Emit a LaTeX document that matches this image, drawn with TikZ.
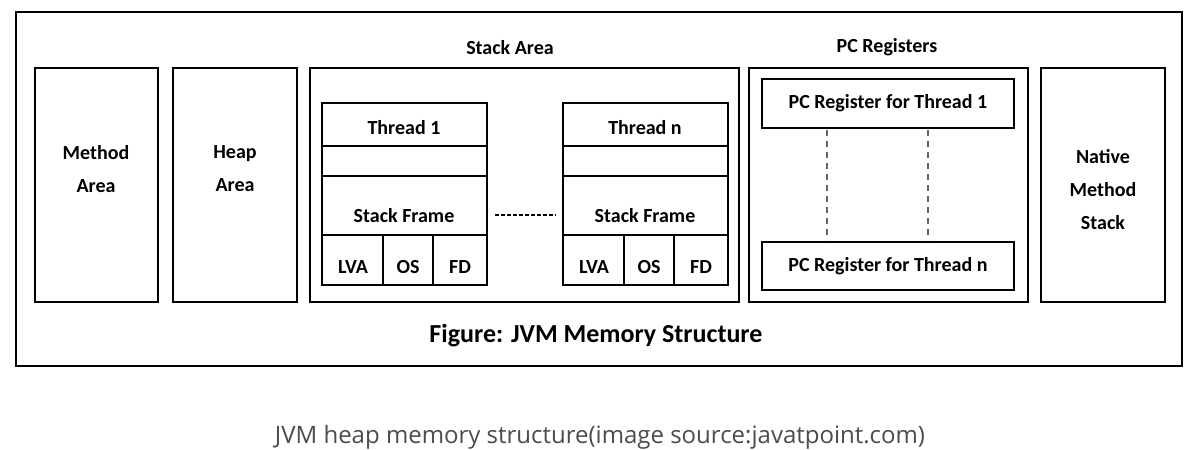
\documentclass[tikz,border=0pt]{standalone}
\usepackage{fontspec}
\setmainfont{Carlito}
\newfontfamily\capf{Open Sans}
\begin{document}
\begin{tikzpicture}[x=1pt,y=-1pt,
  bx/.style={draw=black,line width=1.3pt},
  lb/.style={font=\fontsize{20}{33}\selectfont\bfseries,align=center}]
\useasboundingbox (0,0) rectangle (1200,450);
\fill[white] (0,0) rectangle (1200,450);
\draw[bx] (16,12) rectangle (1182,366);
\draw[bx] (35,68) rectangle (158,302);
\draw[bx] (173,68) rectangle (297,302);
\draw[bx] (310,68) rectangle (739,302);
\draw[bx] (749,68) rectangle (1028,302);
\draw[bx] (1041,68) rectangle (1165,302);
\node[lb] (ma) at (96,169) {Method\\Area};
\node[lb] (ha) at (235,169) {Heap\\Area};
\node[lb] (na) at (1103,190) {Native\\Method\\Stack};
\node[lb] (sa) at (510,48) {Stack Area};
\node[lb] (pc) at (887,47) {PC Registers};
\foreach \x/\n/\t in {322/a/Thread 1,563/b/Thread n}{
  \draw[bx] (\x,103) rectangle (\x+165,285);
  \draw[bx] (\x,146) -- (\x+165,146);
  \draw[bx] (\x,176) -- (\x+165,176);
  \draw[bx] (\x,235) -- (\x+165,235);
  \draw[bx] (\x+61,235) -- (\x+61,285);
  \draw[bx] (\x+111,235) -- (\x+111,285);
  \node[lb] (t\n) at (\x+82,128) {\t};
  \node[lb] (s\n) at (\x+82,216) {Stack Frame};
  \node[lb] (l\n) at (\x+31,267) {LVA};
  \node[lb] (o\n) at (\x+86,267) {OS};
  \node[lb] (f\n) at (\x+138,267) {FD};
}
\coordinate (d1) at (495,215); \coordinate (d2) at (556,215);
\draw[line width=1.2pt,dash pattern=on 4pt off 2pt] (d1) -- (d2);
\node[bx,lb,minimum width=252pt,minimum height=49pt] (p1) at (888,103.5) {PC Register for Thread 1};
\node[bx,lb,minimum width=252pt,minimum height=48pt] (pn) at (888,266) {PC Register for Thread n};
\draw[line width=1.8pt,gray!80!black,dash pattern=on 6pt off 5pt] (827,130) -- (827,240);
\draw[line width=1.8pt,gray!80!black,dash pattern=on 6pt off 5pt] (928,130) -- (928,240);
\node[font=\fontsize{26}{30}\selectfont\bfseries] (fig) at (596,336) {Figure: JVM Memory Structure};
\node[font=\capf\fontsize{24}{28}\selectfont,text=black!70] (cap) at (600,437) {JVM heap memory structure(image source:javatpoint.com)};
\end{tikzpicture}
\end{document}
